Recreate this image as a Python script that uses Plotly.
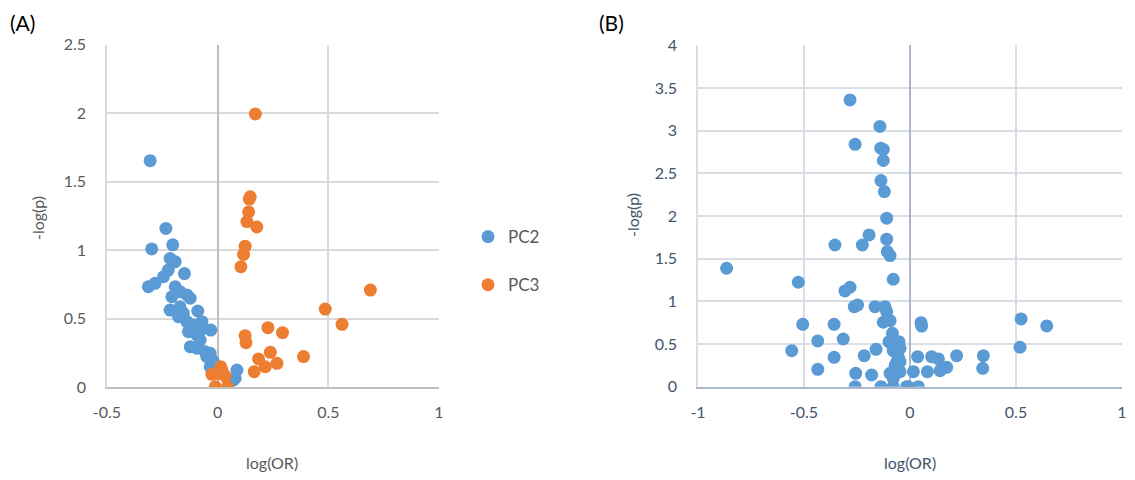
import plotly.graph_objects as go

# ---- Panel A data ----
pc2_x = [-0.305, -0.234, -0.298, -0.203, -0.215, -0.192, -0.150, -0.223, -0.245, -0.313,
         -0.283, -0.192, -0.170, -0.207, -0.139, -0.124, -0.215, -0.170, -0.155, -0.090,
         -0.177, -0.139, -0.071, -0.110, -0.064, -0.031, -0.132, -0.094, -0.079, -0.124,
         -0.094, -0.057, -0.034, -0.026, -0.049, -0.034, 0.087, 0.079, 0.071, -0.020]
pc2_y = [1.654, 1.16, 1.01, 1.04, 0.94, 0.917, 0.83, 0.856, 0.807, 0.734,
         0.759, 0.734, 0.698, 0.661, 0.674, 0.65, 0.564, 0.588, 0.54, 0.557,
         0.515, 0.479, 0.479, 0.455, 0.43, 0.418, 0.406, 0.382, 0.345, 0.296,
         0.285, 0.26, 0.248, 0.20, 0.223, 0.15, 0.126, 0.066, 0.053, 0.19]

pc3_x = [0.170, 0.147, 0.143, 0.140, 0.132, 0.177, 0.124, 0.117, 0.105, 0.690,
         0.486, 0.562, 0.227, 0.293, 0.124, 0.128, 0.388, 0.238, 0.185, 0.268,
         0.215, 0.165, 0.014, -0.026, 0.034, -0.011, 0.044, 0.005, 0.020]
pc3_y = [1.995, 1.39, 1.374, 1.28, 1.21, 1.17, 1.03, 0.97, 0.88, 0.71,
         0.571, 0.46, 0.435, 0.399, 0.377, 0.326, 0.224, 0.255, 0.207, 0.175,
         0.15, 0.114, 0.15, 0.095, 0.082, 0.004, 0.004, 0.10, 0.12]

# ---- Panel B data ----
b_x = [-0.283, -0.142, -0.259, -0.138, -0.126, -0.126, -0.137, -0.121, -0.110, -0.193,
       -0.354, -0.225, -0.110, -0.107, -0.094, -0.865, -0.079, -0.527, -0.283, -0.307,
       -0.263, -0.247, -0.165, -0.118, -0.110, -0.126, -0.094, -0.506, -0.358, -0.083,
       -0.315, -0.435, -0.099, -0.052, -0.558, -0.160, -0.079, -0.358, -0.216, -0.055,
       -0.047, -0.435, -0.256, -0.181, -0.094, -0.079, -0.047, -0.259, -0.137, -0.079,
       -0.016, 0.052, 0.055, 0.524, 0.645, 0.519, -0.079, -0.047, 0.036, 0.102,
       0.134, 0.220, 0.346, 0.343, 0.173, 0.142, 0.082, 0.016, -0.008, 0.039,
       -0.070, -0.060]
b_y = [3.36, 3.05, 2.84, 2.795, 2.78, 2.65, 2.415, 2.286, 1.974, 1.778,
       1.66, 1.66, 1.728, 1.583, 1.536, 1.388, 1.259, 1.224, 1.165, 1.122,
       0.938, 0.958, 0.938, 0.938, 0.879, 0.755, 0.774, 0.731, 0.731, 0.626,
       0.559, 0.536, 0.528, 0.528, 0.422, 0.438, 0.422, 0.344, 0.363, 0.351,
       0.293, 0.204, 0.157, 0.137, 0.157, 0.098, 0.176, 0.0, 0.0, 0.0,
       0.0, 0.75, 0.71, 0.794, 0.712, 0.462, 0.43, 0.45, 0.352, 0.352,
       0.325, 0.363, 0.363, 0.215, 0.227, 0.188, 0.176, 0.176, 0.0, 0.0,
       0.25, 0.30]

# ---- ticks ----
a_xticks = [-0.5, 0, 0.5, 1]
a_xtext = ["-0.5", "0", "0.5", "1"]
a_yticks = [0, 0.5, 1, 1.5, 2, 2.5]
a_ytext = ["0", "0.5", "1", "1.5", "2", "2.5"]
b_xticks = [-1, -0.5, 0, 0.5, 1]
b_xtext = ["-1", "-0.5", "0", "0.5", "1"]
b_yticks = [0, 0.5, 1, 1.5, 2, 2.5, 3, 3.5, 4]
b_ytext = ["0", "0.5", "1", "1.5", "2", "2.5", "3", "3.5", "4"]

BLUE = "#5B9BD5"
ORANGE = "#ED7D31"
OFF = 8                      # page body margin offset
W, H = 1135 - OFF, 480 - OFF
FONT = "Lato"

def px_x(p):
    return (p - OFF) / W

def px_y(p):
    return 1 - (p - OFF) / H

fig = go.Figure()
fig.add_trace(go.Scatter(x=pc2_x, y=pc2_y, mode="markers", name="PC2",
                         marker=dict(color=BLUE, size=13), xaxis="x", yaxis="y",
                         legendgroup="a"))
fig.add_trace(go.Scatter(x=pc3_x, y=pc3_y, mode="markers", name="PC3",
                         marker=dict(color=ORANGE, size=13), xaxis="x", yaxis="y",
                         legendgroup="b"))
fig.add_trace(go.Scatter(x=b_x, y=b_y, mode="markers", name="B",
                         marker=dict(color=BLUE, size=13), xaxis="x2", yaxis="y2",
                         showlegend=False))

tickfontA = dict(family=FONT, size=16, color="#595959")
tickfontB = dict(family=FONT, size=16, color="#44546A")

fig.update_layout(
    width=W, height=H, autosize=False,
    margin=dict(l=0, r=0, t=0, b=0, pad=0, autoexpand=False),
    paper_bgcolor="white", plot_bgcolor="white",
    showlegend=True,
    legend=dict(x=px_x(468), y=px_y(261), xanchor="left", yanchor="middle",
                font=dict(family=FONT, size=17, color="#595959"),
                tracegroupgap=23, bgcolor="rgba(0,0,0,0)", itemwidth=30),
    xaxis=dict(domain=[px_x(107), px_x(439)], range=[-0.5, 1], anchor="y",
               tickvals=a_xticks, ticktext=a_xtext, tickfont=tickfontA,
               showgrid=True, gridcolor="#D9D9D9", gridwidth=1.5,
               zeroline=True, zerolinecolor="#BFBFBF", zerolinewidth=1.5,
               showline=True, linecolor="#BFBFBF", linewidth=1.5,
               ticks="", ticklabelstandoff=10, automargin=False),
    yaxis=dict(domain=[px_y(387.3), px_y(44.8)], range=[0, 2.5], anchor="x",
               tickvals=a_yticks, ticktext=a_ytext, tickfont=tickfontA,
               showgrid=True, gridcolor="#D9D9D9", gridwidth=1.5,
               zeroline=False, showline=True, linecolor="#D9D9D9", linewidth=1.5,
               ticks="", ticklabelstandoff=16, automargin=False),
    xaxis2=dict(domain=[px_x(698), px_x(1122)], range=[-1, 1], anchor="y2",
                tickvals=b_xticks, ticktext=b_xtext, tickfont=tickfontB,
                showgrid=True, gridcolor="#D9DEE6", gridwidth=1.5,
                zeroline=True, zerolinecolor="#ADB9CA", zerolinewidth=1.5,
                showline=True, linecolor="#ADB9CA", linewidth=1.5,
                ticks="", ticklabelstandoff=10, automargin=False),
    yaxis2=dict(domain=[px_y(386.7), px_y(45.3)], range=[0, 4], anchor="x2",
                tickvals=b_yticks, ticktext=b_ytext, tickfont=tickfontB,
                showgrid=True, gridcolor="#D9DEE6", gridwidth=1.5,
                zeroline=False, showline=True, linecolor="#D9DEE6", linewidth=1.5,
                ticks="", ticklabelstandoff=16, automargin=False),
)

ann = []
ann.append(dict(text="(A)", x=px_x(8), y=px_y(22), xref="paper", yref="paper",
                xanchor="left", yanchor="middle", showarrow=False,
                font=dict(family=FONT, size=21, color="#000000")))
ann.append(dict(text="(B)", x=px_x(597), y=px_y(22), xref="paper", yref="paper",
                xanchor="left", yanchor="middle", showarrow=False,
                font=dict(family=FONT, size=21, color="#000000")))
ann.append(dict(text="-log(p)", x=px_x(38), y=px_y(218), xref="paper", yref="paper",
                xanchor="center", yanchor="middle", showarrow=False, textangle=-90,
                font=dict(family=FONT, size=16, color="#595959")))
ann.append(dict(text="log(OR)", x=px_x(272), y=px_y(462), xref="paper", yref="paper",
                xanchor="center", yanchor="middle", showarrow=False,
                font=dict(family=FONT, size=16, color="#595959")))
ann.append(dict(text="-log(p)", x=px_x(632), y=px_y(215), xref="paper", yref="paper",
                xanchor="center", yanchor="middle", showarrow=False, textangle=-90,
                font=dict(family=FONT, size=16, color="#44546A")))
ann.append(dict(text="log(OR)", x=px_x(910), y=px_y(462), xref="paper", yref="paper",
                xanchor="center", yanchor="middle", showarrow=False,
                font=dict(family=FONT, size=16, color="#44546A")))
fig.update_layout(annotations=ann)

fig.write_html("out.html")
